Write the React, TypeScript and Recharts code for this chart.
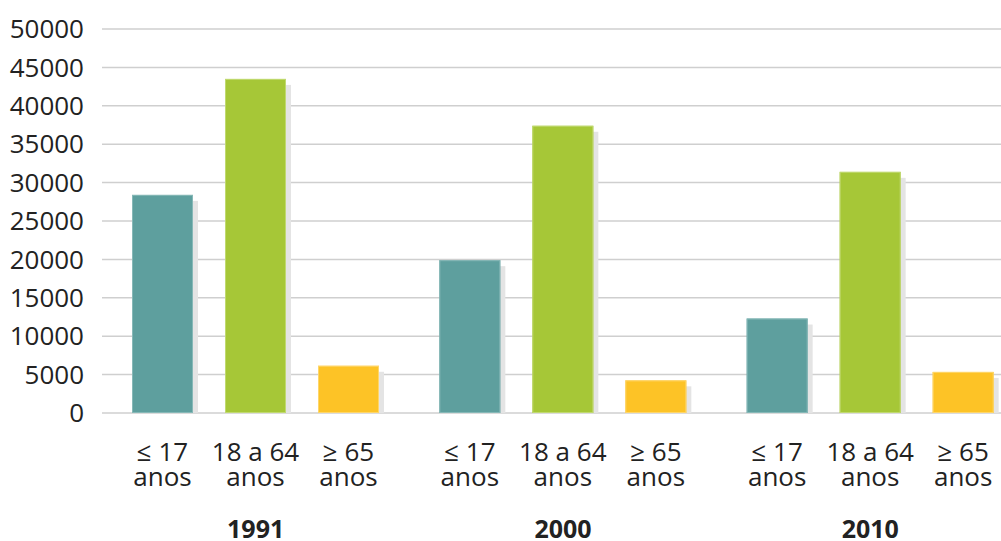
import { Bar, BarChart, CartesianGrid, LabelList, XAxis, YAxis } from "recharts";

// population by age group
const years = ["1991", "2000", "2010"];
const youngValues = [28400, 19900, 12300];
const adultValues = [43500, 37400, 31400];
const elderValues = [6150, 4250, 5350];
const seriesKeys = ["young", "adult", "elder"];
const seriesLabels = [
  ["≤ 17", "anos"],
  ["18 a 64", "anos"],
  ["≥ 65", "anos"],
];
const seriesColors = ["#5e9f9e", "#a6c737", "#fdc326"];
const seriesEdges = ["#86b8b7", "#c0d970", "#fed66a"];
const yTicks = [0, 5000, 10000, 15000, 20000, 25000, 30000, 35000, 40000, 45000, 50000];

const chartData = years.map((year, i) => ({
  year,
  young: youngValues[i],
  adult: adultValues[i],
  elder: elderValues[i],
}));

const FONT = "'Open Sans', 'DejaVu Sans', sans-serif";
const TEXT = "#222";

// bar with the soft grey drop shadow to the right
function ShadowBar(props: any) {
  const { x, y, width, height, fill, stroke } = props;
  if (!height || height <= 0) return null;
  return (
    <g>
      <rect x={x + 5} y={y + 6} width={width} height={Math.max(height - 6, 0)} fill="#e4e4e4" />
      <rect x={x} y={y} width={width} height={height} fill={fill} />
      <rect
        x={x + 0.5}
        y={y + 0.5}
        width={width - 1}
        height={height - 1}
        fill="none"
        stroke={stroke}
        strokeWidth={1}
      />
    </g>
  );
}

// two-line age label under each bar
function makeAgeLabel(lines: string[]) {
  return (props: any) => {
    const { x, y, width, height } = props;
    const cx = Number(x) + Number(width) / 2;
    const base = Number(y) + Number(height);
    return (
      <text textAnchor="middle" fontFamily={FONT} fontSize={26} fill={TEXT}>
        <tspan x={cx} y={base + 48}>
          {lines[0]}
        </tspan>
        <tspan x={cx} y={base + 73}>
          {lines[1]}
        </tspan>
      </text>
    );
  };
}

function YearTick(props: any) {
  const { x, y, payload } = props;
  return (
    <text
      x={x}
      y={y + 125}
      textAnchor="middle"
      fontFamily={FONT}
      fontSize={25}
      fontWeight={700}
      fill={TEXT}
    >
      {payload.value}
    </text>
  );
}

export default function App() {
  return (
    <div
      style={{
        position: "fixed",
        left: 0,
        top: 0,
        width: 1001,
        height: 541,
        overflow: "hidden",
        background: "#fff",
      }}
    >
      <BarChart
        width={1024}
        height={541}
        data={chartData}
        margin={{ top: 29, right: 0, left: 0, bottom: 0 }}
        barSize={61}
        barGap={32}
      >
        <CartesianGrid vertical={false} stroke="#cfcfcf" strokeWidth={1.5} />
        <XAxis
          dataKey="year"
          axisLine={false}
          tickLine={false}
          tickSize={0}
          tickMargin={0}
          height={128}
          interval={0}
          tick={<YearTick />}
        />
        <YAxis
          domain={[0, 50000]}
          ticks={yTicks}
          axisLine={false}
          tickLine={false}
          tickSize={0}
          tickMargin={18}
          width={102}
          interval={0}
          tick={{ fontFamily: FONT, fontSize: 26, fill: TEXT }}
        />
        {seriesKeys.map((key, i) => (
          <Bar
            key={key}
            dataKey={key}
            fill={seriesColors[i]}
            stroke={seriesEdges[i]}
            shape={<ShadowBar />}
            isAnimationActive={false}
          >
            <LabelList dataKey={key} content={makeAgeLabel(seriesLabels[i])} />
          </Bar>
        ))}
      </BarChart>
    </div>
  );
}
